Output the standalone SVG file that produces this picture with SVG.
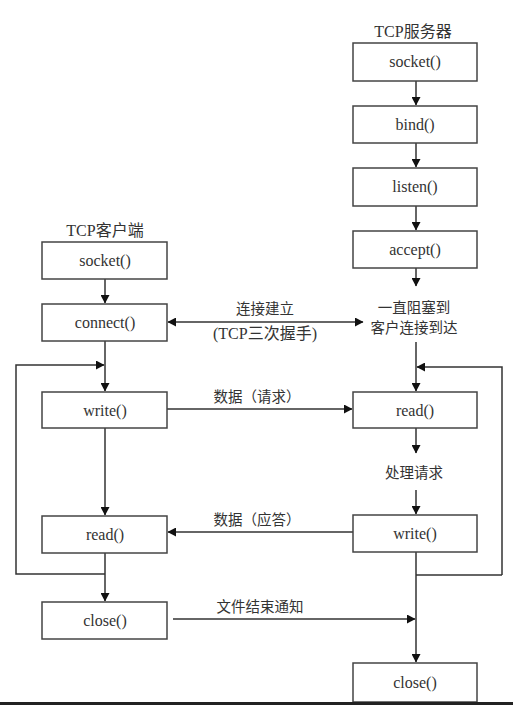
<svg xmlns="http://www.w3.org/2000/svg" width="513" height="705" viewBox="0 0 513 705">
<style>
.box{fill:#fff;stroke:#444;stroke-width:1.5}
.ln{fill:none;stroke:#333;stroke-width:1.5}
.t{font-family:"Liberation Serif","Noto Sans CJK SC",serif;font-size:16px;fill:#333;text-anchor:middle}
.c{font-family:"Noto Sans CJK SC","Liberation Serif",sans-serif;font-size:14.5px;fill:#333;text-anchor:middle}
</style>
<defs>
<marker id="ah" markerUnits="userSpaceOnUse" markerWidth="9" markerHeight="9" refX="8" refY="4.5" orient="auto-start-reverse" viewBox="0 0 9 9">
<path d="M0,0 L8.5,4.5 L0,9 z" fill="#111"/>
</marker>
</defs>
<rect width="513" height="705" fill="#fff"/>

<g id="connectors">
<path class="ln" d="M416,81 V105" marker-end="url(#ah)"/>
<path class="ln" d="M416,143 V167" marker-end="url(#ah)"/>
<path class="ln" d="M416,206 V230" marker-end="url(#ah)"/>
<path class="ln" d="M416,268 V286" marker-end="url(#ah)"/>
<path class="ln" d="M416,342 V391" marker-end="url(#ah)"/>
<path class="ln" d="M502,575 V367 H417" marker-end="url(#ah)"/>
<path class="ln" d="M416,575 H502"/>
<path class="ln" d="M416,428 V453" marker-end="url(#ah)"/>
<path class="ln" d="M416,490 V514" marker-end="url(#ah)"/>
<path class="ln" d="M416,552 V662" marker-end="url(#ah)"/>

<path class="ln" d="M105,279 V303" marker-end="url(#ah)"/>
<path class="ln" d="M105,341 V391" marker-end="url(#ah)"/>
<path class="ln" d="M105,428 V515" marker-end="url(#ah)"/>
<path class="ln" d="M105,553 V601" marker-end="url(#ah)"/>
<path class="ln" d="M105,574 H16 V365 H104" marker-end="url(#ah)"/>

<path class="ln" d="M168,322 H363" marker-start="url(#ah)" marker-end="url(#ah)"/>
<path class="ln" d="M167,409 H352" marker-end="url(#ah)"/>
<path class="ln" d="M353,532 H168" marker-end="url(#ah)"/>
<path class="ln" d="M173,619 H415" marker-end="url(#ah)"/>
</g>

<g id="label-server"><text class="t" x="413" y="37">TCP服务器</text></g>
<g id="s-socket"><rect class="box" x="353" y="43" width="124" height="38"/><text class="t" x="415" y="67">socket()</text></g>
<g id="s-bind"><rect class="box" x="353" y="106" width="124" height="37"/><text class="t" x="415" y="130">bind()</text></g>
<g id="s-listen"><rect class="box" x="353" y="168" width="124" height="38"/><text class="t" x="415" y="192">listen()</text></g>
<g id="s-accept"><rect class="box" x="353" y="231" width="124" height="37"/><text class="t" x="415" y="255">accept()</text></g>
<g id="s-block"><text class="c" x="414" y="313">一直阻塞到</text><text class="c" x="414" y="333">客户连接到达</text></g>
<g id="s-read"><rect class="box" x="353" y="392" width="124" height="36"/><text class="t" x="415" y="416">read()</text></g>
<g id="s-process"><text class="c" x="414" y="478">处理请求</text></g>
<g id="s-write"><rect class="box" x="353" y="515" width="124" height="37"/><text class="t" x="415" y="539">write()</text></g>
<g id="s-close"><rect class="box" x="353" y="663" width="124" height="39"/><text class="t" x="415" y="688">close()</text></g>

<g id="label-client"><text class="t" x="105" y="236">TCP客户端</text></g>
<g id="c-socket"><rect class="box" x="42" y="242" width="125" height="37"/><text class="t" x="105" y="266">socket()</text></g>
<g id="c-connect"><rect class="box" x="42" y="304" width="125" height="37"/><text class="t" x="105" y="328">connect()</text></g>
<g id="c-write"><rect class="box" x="42" y="392" width="125" height="36"/><text class="t" x="105" y="416">write()</text></g>
<g id="c-read"><rect class="box" x="42" y="516" width="125" height="37"/><text class="t" x="105" y="540">read()</text></g>
<g id="c-close"><rect class="box" x="42" y="602" width="125" height="37"/><text class="t" x="105" y="626">close()</text></g>

<g id="labels">
<text class="c" x="265" y="314">连接建立</text>
<text class="t" x="265" y="339">(TCP三次握手)</text>
<text class="c" x="257" y="402">数据（请求）</text>
<text class="c" x="257" y="525">数据（应答）</text>
<text class="c" x="260" y="612">文件结束通知</text>
</g>
<rect x="0" y="702" width="513" height="3" fill="#222"/>
</svg>
